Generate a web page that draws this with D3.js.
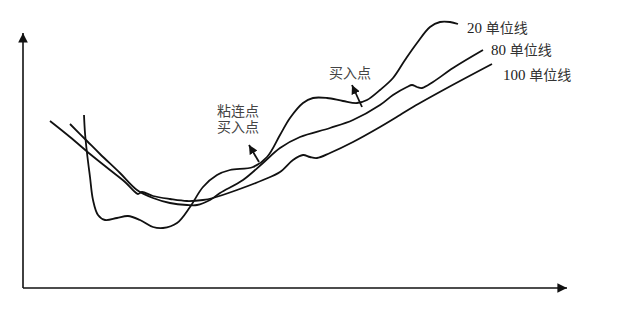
<!DOCTYPE html>
<html>
<head>
<meta charset="utf-8">
<script src="https://cdn.jsdelivr.net/npm/d3@7"></script>
<style>
  body { margin: 0; background: #fff; }
  text { font-family: "Liberation Serif", "Noto Sans CJK SC", serif; fill: #222; }
</style>
</head>
<body>
<script>
// time index (days) and price level for each moving-average line
var ma20 = [
  [61,173],[62,155],[64,135],[67,111],[70,88],[75,73],[82,68],[94,70],[105,72],
  [117,68],[130,61],[140,60],[154,65],[167,81],[180,101],[194,113],[207,118],
  [230,121],[244,131],[257,153],[267,170],[280,185],[290,190],[304,190],[320,187],
  [334,185],[344,188],[357,198],[370,210],[382,228],[394,245],[407,261],[417,266],
  [427,266],[435,264]
];
var ma80 = [
  [47,164],[64,147],[77,134],[97,115],[114,98],[130,90],[147,85],[164,83],[174,83],
  [187,88],[197,95],[220,108],[240,125],[257,140],[277,151],[307,160],[330,168],
  [357,183],[370,193],[384,201],[389,203],[394,201],[399,200],[410,206],[430,220],
  [460,238]
];
var ma100 = [
  [27,167],[47,151],[67,134],[87,118],[102,106],[112,96],[115,94],[119,96],[130,92],
  [147,89],[164,87],[180,88],[190,90],[214,98],[240,108],[257,116],[270,128],
  [280,133],[287,131],[294,130],[307,135],[330,146],[357,161],[377,173],[390,181],
  [424,200],[469,224]
];

var seriesNames = ["20 单位线", "80 单位线", "100 单位线"];
var labelPos = [[444,260],[468,238],[480,213]];

// annotation arrows: [from, to] and their captions
var arrows = [
  [[236,126],[226,143]],
  [[339,181],[329,203]]
];
var notes = [
  { lines: ["粘连点", "买入点"], at: [215,177] },
  { lines: ["买入点"], at: [327,215] }
];

var width = 640, height = 319;

var svg = d3.select("body").append("svg")
    .attr("width", width)
    .attr("height", height);

var x = d3.scaleLinear().domain([0, 544]).range([23, 567]);
var y = d3.scaleLinear().domain([0, 255]).range([288, 33]);

var defs = svg.append("defs");
defs.append("marker")
    .attr("id", "axisHead")
    .attr("viewBox", "0 0 10 10")
    .attr("refX", 10).attr("refY", 5)
    .attr("markerWidth", 6).attr("markerHeight", 6)
    .attr("markerUnits", "strokeWidth")
    .attr("orient", "auto")
  .append("path")
    .attr("d", "M0,0L10,5L0,10z")
    .attr("fill", "#111");
defs.append("marker")
    .attr("id", "noteHead")
    .attr("viewBox", "0 0 10 10")
    .attr("refX", 10).attr("refY", 5)
    .attr("markerWidth", 5).attr("markerHeight", 5)
    .attr("markerUnits", "strokeWidth")
    .attr("orient", "auto")
  .append("path")
    .attr("d", "M0,0L10,5L0,10z")
    .attr("fill", "#111");

// axes
svg.append("line")
    .attr("x1", x(0)).attr("y1", y(0))
    .attr("x2", x(0)).attr("y2", y(255))
    .attr("stroke", "#111").attr("stroke-width", 1.6)
    .attr("marker-end", "url(#axisHead)");
svg.append("line")
    .attr("x1", x(0)).attr("y1", y(0))
    .attr("x2", x(544)).attr("y2", y(0))
    .attr("stroke", "#111").attr("stroke-width", 1.6)
    .attr("marker-end", "url(#axisHead)");

// moving average lines
var line = d3.line()
    .x(function(d) { return x(d[0]); })
    .y(function(d) { return y(d[1]); })
    .curve(d3.curveCatmullRom.alpha(0.5));

[ma20, ma80, ma100].forEach(function(s) {
    svg.append("path")
        .datum(s)
        .attr("fill", "none")
        .attr("stroke", "#111")
        .attr("stroke-width", 1.8)
        .attr("d", line);
});

// line labels
seriesNames.forEach(function(name, i) {
    var parts = name.split(" ");
    var t = svg.append("text")
        .attr("x", x(labelPos[i][0]))
        .attr("y", y(labelPos[i][1]))
        .attr("dy", "0.35em")
        .style("font-size", "15px");
    t.append("tspan").text(parts[0] + " ");
    t.append("tspan")
        .style("font-size", "14px")
        .style("fill", "#333")
        .text(parts[1]);
});

// annotation arrows
arrows.forEach(function(a) {
    svg.append("line")
        .attr("x1", x(a[0][0])).attr("y1", y(a[0][1]))
        .attr("x2", x(a[1][0])).attr("y2", y(a[1][1]))
        .attr("stroke", "#111").attr("stroke-width", 1.8)
        .attr("marker-end", "url(#noteHead)");
});

// captions, wrapped inside one text element
notes.forEach(function(n) {
    var t = svg.append("text")
        .attr("x", x(n.at[0]))
        .attr("y", y(n.at[1]))
        .attr("text-anchor", "middle")
        .style("font-size", "14px")
        .style("fill", "#444");
    n.lines.forEach(function(s, j) {
        t.append("tspan")
            .attr("x", x(n.at[0]))
            .attr("dy", j === 0 ? "0.35em" : "16px")
            .text(s);
    });
});
</script>
</body>
</html>
